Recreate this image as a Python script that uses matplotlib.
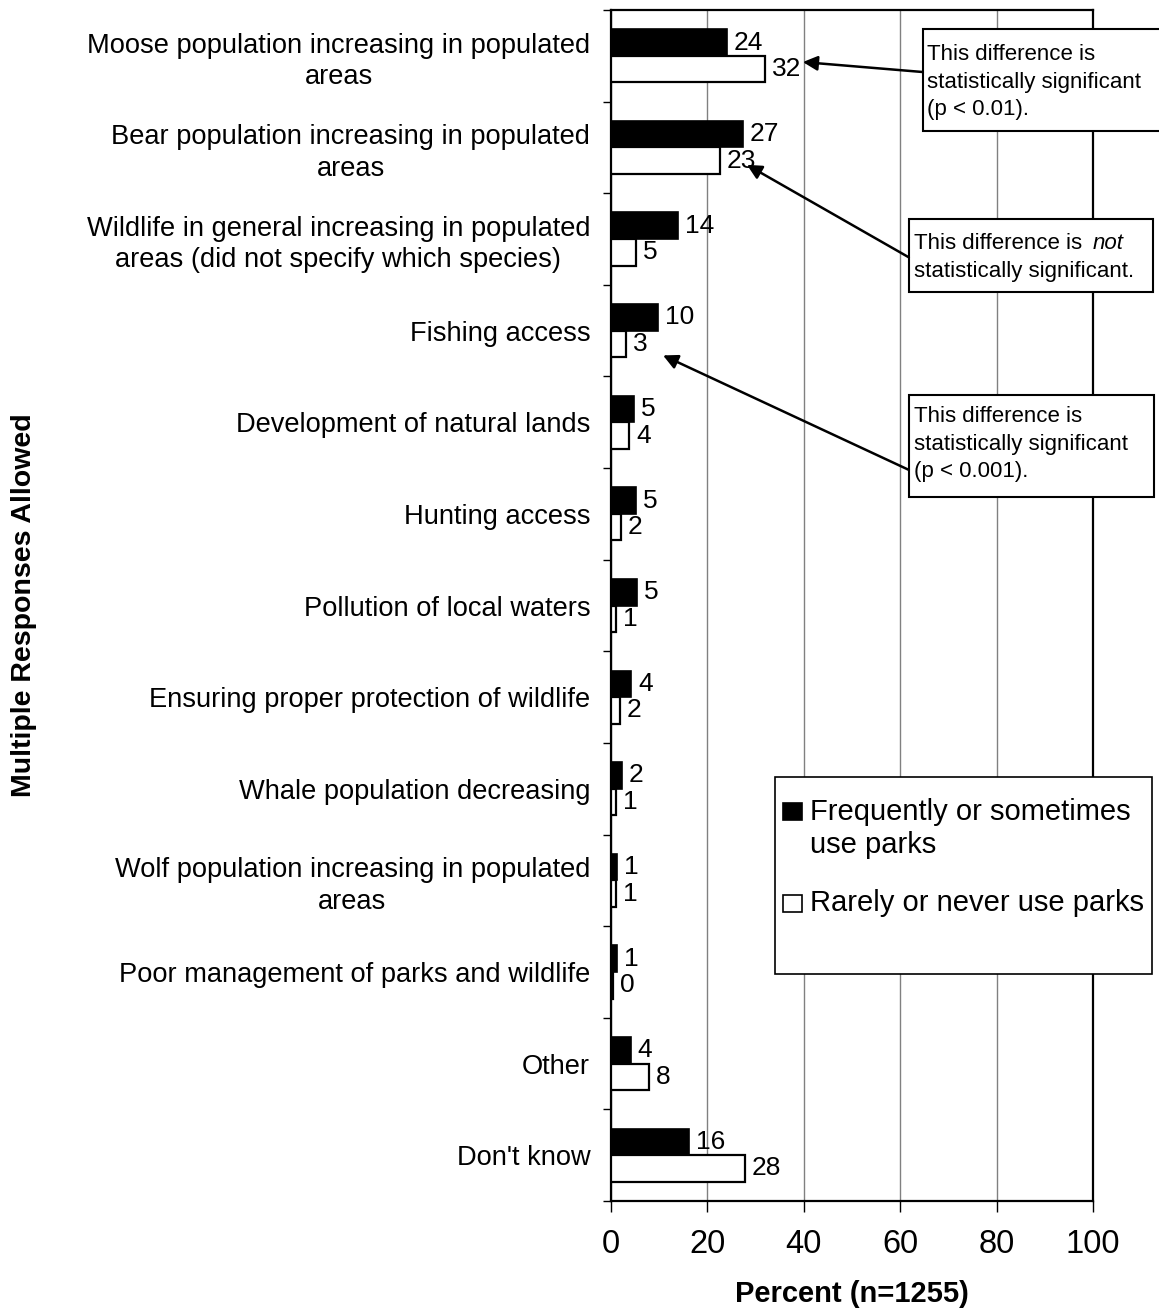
import numpy as np
import matplotlib
matplotlib.use("Agg")
import matplotlib.pyplot as plt
from matplotlib.patches import Rectangle

plt.rcParams['font.family'] = ['Liberation Sans', 'DejaVu Sans']

categories = [
    "Moose population increasing in populated\nareas",
    "Bear population increasing in populated\nareas",
    "Wildlife in general increasing in populated\nareas (did not specify which species)",
    "Fishing access",
    "Development of natural lands",
    "Hunting access",
    "Pollution of local waters",
    "Ensuring proper protection of wildlife",
    "Whale population decreasing",
    "Wolf population increasing in populated\nareas",
    "Poor management of parks and wildlife",
    "Other",
    "Don't know",
]
freq_users = [24.0, 27.4, 13.9, 9.8, 4.8, 5.2, 5.4, 4.2, 2.2, 1.2, 1.2, 4.1, 16.2]
rare_users = [31.9, 22.6, 5.2, 3.2, 3.8, 2.0, 1.0, 1.8, 1.0, 1.0, 0.4, 7.8, 27.8]
series_names = ["Frequently or sometimes\nuse parks", "Rarely or never use parks"]
x_ticks = [0, 20, 40, 60, 80, 100]

fig = plt.figure(figsize=(11.59, 13.11), dpi=100)
ax = fig.add_axes([611/1159, 1-1201/1311, 482/1159, 1191/1311])

y = np.arange(len(categories))
h = 0.29
b1 = ax.barh(y - h/2, freq_users, height=h, color='black', edgecolor='black', lw=1.2, zorder=3)
b2 = ax.barh(y + h/2, rare_users, height=h, color='white', edgecolor='black', lw=1.6, zorder=3)

for bars, vals in [(b1, freq_users), (b2, rare_users)]:
    for r, v in zip(bars, vals):
        ax.annotate("%.0f" % v, xy=(v, r.get_y() + r.get_height()/2),
                    xytext=(5, 0), textcoords='offset points',
                    ha='left', va='center', fontsize=19, zorder=8)

ax.set_xlim(0, 100)
ax.set_ylim(len(categories) - 0.5, -0.5)
ax.set_xticks(x_ticks)
ax.set_xticklabels([str(t) for t in x_ticks], fontsize=23.5)
ax.tick_params(axis='x', length=8, width=1, pad=12, direction='out')

ax.set_yticks(y)
ax.set_yticklabels(categories, fontsize=19.6, multialignment='center', linespacing=1.27)
ax.tick_params(axis='y', which='major', length=0, pad=15)
ax.set_yticks(np.arange(len(categories) + 1) - 0.5, minor=True)
ax.tick_params(axis='y', which='minor', length=6, width=1, direction='out')

ax.xaxis.grid(True, color='#808080', lw=1)
ax.set_axisbelow(True)
for s in ax.spines.values():
    s.set_linewidth(1.6)
    s.set_color('black')

ax.set_xlabel("Percent (n=1255)", fontsize=21, fontweight='bold')
ax.xaxis.set_label_coords(0.5, -0.066)
ax.set_ylabel("Multiple Responses Allowed", fontsize=20.5, fontweight='bold')
ax.yaxis.set_label_coords(-1.19, 0.5)

# note boxes with arrows
def note_box(x0, x1, y0, y1):
    ax.add_patch(Rectangle((x0, y0), x1 - x0, y1 - y0, facecolor='white', edgecolor='black',
                           lw=1.5, clip_on=False, zorder=6))

def arrow(tail, tip):
    ax.annotate('', xy=tip, xytext=tail, annotation_clip=False, zorder=7,
                arrowprops=dict(arrowstyle='-|>', color='black', lw=1.8,
                                mutation_scale=22, shrinkA=0, shrinkB=0))

note_box(64.7, 116, -0.29, 0.82)
ax.text(65.6, 0.286, "This difference is\nstatistically significant\n(p < 0.01).",
        fontsize=16, va='center', ha='left', linespacing=1.42, zorder=8, clip_on=False)
arrow((64.7, 0.177), (39.8, 0.068))

note_box(61.8, 112.4, 1.78, 2.58)
t1 = ax.text(62.8, 2.044, "This difference is", fontsize=16, va='center', ha='left', zorder=8)
ax.annotate("not", xy=(1, 0), xycoords=t1, xytext=(8, 0), textcoords='offset points',
            fontsize=16, style='italic', va='bottom', ha='left', zorder=8)
ax.text(62.8, 2.349, "statistically significant.", fontsize=16, va='center', ha='left', zorder=8)
arrow((61.8, 2.20), (28.2, 1.19))

note_box(61.8, 112.7, 3.70, 4.82)
ax.text(62.8, 4.238, "This difference is\nstatistically significant\n(p < 0.001).",
        fontsize=16, va='center', ha='left', linespacing=1.42, zorder=8)
arrow((61.8, 4.52), (10.8, 3.27))

# legend box
ax.add_patch(Rectangle((34.0, 7.873), 112.2 - 34.0, 10.024 - 7.873, facecolor='white',
                       edgecolor='black', lw=1.2, clip_on=False, zorder=6))
ax.add_patch(Rectangle((35.7, 8.157), 3.9, 0.187, facecolor='black', edgecolor='black',
                       lw=1.2, clip_on=False, zorder=7))
ax.add_patch(Rectangle((35.7, 9.155), 3.9, 0.19, facecolor='white', edgecolor='black',
                       lw=1.2, clip_on=False, zorder=7))
ax.text(41.3, 8.435, series_names[0], fontsize=21, va='center', ha='left',
        linespacing=1.25, zorder=8)
ax.text(41.3, 9.249, series_names[1], fontsize=21, va='center', ha='left', zorder=8)

fig.savefig("out.png", dpi=100, facecolor='white')
